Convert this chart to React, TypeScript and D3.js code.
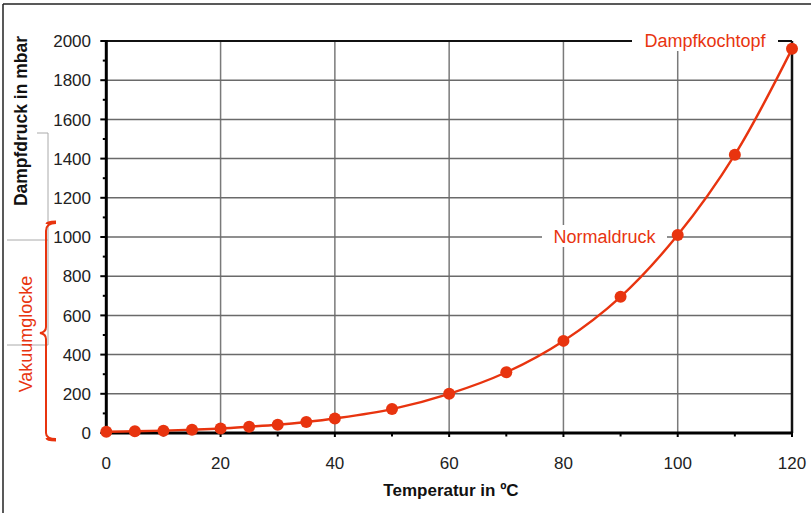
import React from "react";
import * as d3 from "d3";

const temps = [0, 5, 10, 15, 20, 25, 30, 35, 40, 50, 60, 70, 80, 90, 100, 110, 120];
const pressures = [6, 9, 12, 17, 23, 32, 42, 56, 74, 122, 200, 310, 470, 695, 1010, 1420, 1960];
const xTicks = [0, 20, 40, 60, 80, 100, 120];
const xMinor = [10, 30, 50, 70, 90, 110];
const yTicks = [0, 200, 400, 600, 800, 1000, 1200, 1400, 1600, 1800, 2000];
const yMinor = [100, 300, 500, 700, 900, 1100, 1300, 1500, 1700, 1900];
const xTitle = "Temperatur in ºC";
const yTitle = "Dampfdruck in mbar";
const braceLabel = "Vakuumglocke";
const annotations = [
  { t: 120, p: 2000, text: "Dampfkochtopf", x0: 632, x1: 778 },
  { t: 100, p: 1000, text: "Normaldruck", x0: 542, x1: 667 },
];

const RED = "#e8340f";
const FONT = "'Liberation Sans', Arial, Helvetica, sans-serif";

export default function App() {
  const W = 811, H = 513;
  const x = d3.scaleLinear().domain([0, 120]).range([106.3, 792]);
  const y = d3.scaleLinear().domain([0, 2000]).range([433, 41]);
  const data = temps.map((t, i) => ({ t, p: pressures[i] }));
  const line = d3
    .line<{ t: number; p: number }>()
    .x((d) => x(d.t))
    .y((d) => y(d.p))
    .curve(d3.curveCatmullRom.alpha(0.5));

  const yTop = y(1000) - 14;
  const yBot = y(0) + 6;
  const yMid = (yTop + yBot) / 2 + 2;
  const bx = 46;
  const brace = `M56,${yTop} Q${bx},${yTop} ${bx},${yTop + 8} L${bx},${yMid - 6} Q${bx},${yMid - 1} ${bx - 6},${yMid} Q${bx},${yMid + 1} ${bx},${yMid + 6} L${bx},${yBot - 6} Q${bx},${yBot} 56,${yBot}`;

  return (
    <svg
      width={W}
      height={H}
      style={{ position: "absolute", left: 0, top: 0, background: "#fff" }}
      fontFamily={FONT}
    >
      <rect x={0} y={0} width={W} height={H} fill="#fff" />
      {/* outer frame */}
      <line x1={3} y1={4} x2={W} y2={4} stroke="#222" strokeWidth={1.5} />
      <line x1={3} y1={4} x2={3} y2={H} stroke="#222" strokeWidth={1.5} />

      {/* gray leftover boxes */}
      <path d={`M37,133 H48 V345 H7`} fill="none" stroke="#aaa" strokeWidth={1} />
      <line x1={7} y1={240} x2={48} y2={240} stroke="#aaa" strokeWidth={1} />

      {/* grid */}
      {xTicks.slice(1, -1).map((t) => (
        <line key={"gx" + t} x1={x(t)} x2={x(t)} y1={y(2000)} y2={y(0)} stroke="#7a7a7a" strokeWidth={1.5} />
      ))}
      {yTicks.slice(1, -1).map((p) => (
        <line key={"gy" + p} x1={x(0)} x2={x(120)} y1={y(p)} y2={y(p)} stroke="#6a6a6a" strokeWidth={1.5} />
      ))}
      {/* frame top/right */}
      <line x1={x(0)} x2={x(120)} y1={y(2000)} y2={y(2000)} stroke="#111" strokeWidth={2} />
      <line x1={x(120)} x2={x(120)} y1={y(2000)} y2={y(0)} stroke="#111" strokeWidth={2.5} />

      {/* y axis ticks */}
      {yTicks.map((p) => (
        <line key={"yt" + p} x1={x(0) - 6} x2={x(0)} y1={y(p)} y2={y(p)} stroke="#000" strokeWidth={2} />
      ))}
      {yMinor.map((p) => (
        <line key={"ym" + p} x1={x(0) - 3.5} x2={x(0)} y1={y(p)} y2={y(p)} stroke="#000" strokeWidth={2} />
      ))}
      {xTicks.map((t) => (
        <line key={"xt" + t} x1={x(t)} x2={x(t)} y1={y(0)} y2={y(0) + 4} stroke="#000" strokeWidth={2} />
      ))}
      {xMinor.map((t) => (
        <line key={"xm" + t} x1={x(t)} x2={x(t)} y1={y(0)} y2={y(0) + 3.5} stroke="#000" strokeWidth={2} />
      ))}
      {/* axes */}
      <line x1={x(0)} x2={x(0)} y1={y(2000) - 1} y2={y(0) + 1.5} stroke="#000" strokeWidth={3} />
      <line x1={x(0)} x2={x(120) + 1} y1={y(0)} y2={y(0)} stroke="#000" strokeWidth={3} />

      {/* tick labels */}
      {yTicks.map((p) => (
        <text key={"yl" + p} x={91} y={y(p)} dy="0.36em" textAnchor="end" fontSize={17} fill="#222">
          {p}
        </text>
      ))}
      {xTicks.map((t) => (
        <text key={"xl" + t} x={x(t)} y={469} textAnchor="middle" fontSize={17} fill="#222">
          {t}
        </text>
      ))}

      {/* axis titles */}
      <text x={451} y={496} textAnchor="middle" fontSize={17} fontWeight="bold" fill="#111">
        {xTitle}
      </text>
      <text
        transform={`translate(27,121) rotate(-90)`}
        textAnchor="middle"
        fontSize={17.5}
        fontWeight="bold"
        fill="#111"
      >
        {yTitle}
      </text>

      {/* annotations with white background */}
      {annotations.map((a) => (
        <g key={a.text}>
          <rect x={a.x0} y={y(a.p) - 12} width={a.x1 - a.x0} height={22} fill="#fff" />
          <text x={(a.x0 + a.x1) / 2} y={y(a.p)} dy="0.35em" textAnchor="middle" fontSize={18} fill={RED}>
            {a.text}
          </text>
        </g>
      ))}

      {/* curve */}
      <path d={line(data) || ""} fill="none" stroke={RED} strokeWidth={2.4} />
      {data.map((d) => (
        <circle key={"c" + d.t} cx={x(d.t)} cy={y(d.p)} r={6} fill={RED} />
      ))}

      {/* brace */}
      <path d={brace} fill="none" stroke={RED} strokeWidth={2} />
      <path d={`M${bx + 1},${yTop + 1} Q${bx + 1},${yTop - 1} 56,${yTop - 1}`} fill="none" stroke={RED} strokeWidth={3} />
      <path d={`M${bx + 1},${yBot - 1} Q${bx + 1},${yBot + 1} 56,${yBot + 1}`} fill="none" stroke={RED} strokeWidth={3} />
      <text
        transform={`translate(32,334) rotate(-90)`}
        textAnchor="middle"
        fontSize={18}
        fill={RED}
      >
        {braceLabel}
      </text>
    </svg>
  );
}
